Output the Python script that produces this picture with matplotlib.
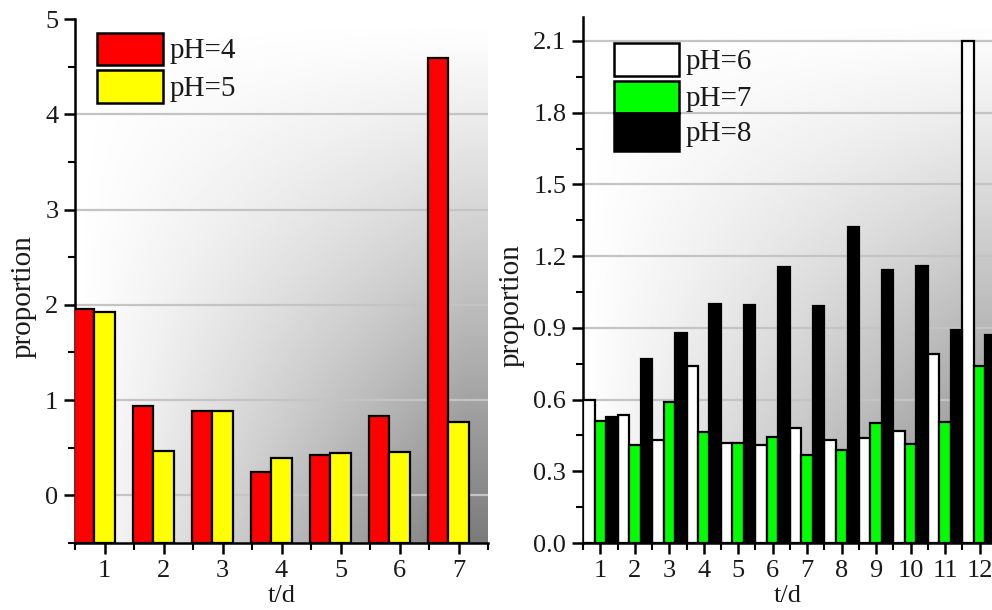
import numpy as np
import matplotlib
matplotlib.use("Agg")
import matplotlib.pyplot as plt
from matplotlib.patches import Rectangle
from matplotlib.ticker import MultipleLocator, FixedLocator, FormatStrFormatter

plt.rcParams['font.family'] = ['Liberation Serif', 'DejaVu Serif']

# ---- data ----
days_a = [1, 2, 3, 4, 5, 6, 7]
ph4 = [1.96, 0.94, 0.89, 0.24, 0.42, 0.83, 4.59]
ph5 = [1.92, 0.47, 0.89, 0.39, 0.44, 0.46, 0.77]

days_b = [1, 2, 3, 4, 5, 6, 7, 8, 9, 10, 11, 12]
ph6 = [0.60, 0.535, 0.43, 0.74, 0.42, 0.41, 0.48, 0.43, 0.44, 0.47, 0.79, 2.10]
ph7 = [0.51, 0.41, 0.59, 0.465, 0.42, 0.445, 0.37, 0.39, 0.50, 0.415, 0.505, 0.74]
ph8 = [0.525, 0.77, 0.88, 1.00, 0.995, 1.155, 0.99, 1.32, 1.14, 1.16, 0.89, 0.87]

labels_a = ['pH=4', 'pH=5']
labels_b = ['pH=6', 'pH=7', 'pH=8']
colors_a = ['#ff0000', '#ffff00']
colors_b = ['#ffffff', '#00ff00', '#000000']

W, H = 992, 610
fig = plt.figure(figsize=(W / 100, H / 100), dpi=100)
fig.patch.set_facecolor('white')


def px_axes(left, top, right, bottom):
    return fig.add_axes([left / W, 1 - bottom / H, (right - left) / W, (bottom - top) / H])


def shade(ax):
    # white in the upper left, darkening toward the lower right
    n = 300
    u = np.linspace(0, 1, n)[None, :]
    v = np.linspace(0, 1, n)[:, None]          # 0 at top, 1 at bottom
    d = np.clip(u * 1.05, 0, 1) ** 1.05 * v ** 1.15
    img = 1 - 0.52 * d
    ax.imshow(img, cmap='gray', vmin=0, vmax=1, extent=[0, 1, 0, 1],
              transform=ax.transAxes, aspect='auto', zorder=0,
              interpolation='bilinear', origin='upper')


def style(ax):
    for s in ('top', 'right'):
        ax.spines[s].set_visible(False)
    for s in ('left', 'bottom'):
        ax.spines[s].set_linewidth(1.8)
        ax.spines[s].set_color('black')
    ax.tick_params(which='major', direction='out', length=8, width=1.8,
                   labelsize=19, labelcolor='#1a1a1a', pad=4)
    ax.tick_params(which='minor', direction='out', length=5, width=1.5)
    ax.set_facecolor('none')


def legend(ax, items, x0, x1, tops, bots, tx):
    for (lab, col), t, b in zip(items, tops, bots):
        ax.add_patch(Rectangle((x0, 1 - b), x1 - x0, b - t, transform=ax.transAxes,
                               facecolor=col, edgecolor='black', lw=1.8,
                               clip_on=False, zorder=6))
        ax.text(tx, 1 - (t + b) / 2 - 0.004, lab, transform=ax.transAxes,
                fontsize=21, va='center', ha='left', color='#1a1a1a', zorder=6)


# ---- left panel ----
ax1 = px_axes(75, 19, 488, 543)
shade(ax1)
ya0 = -0.5                                      # bars rise from the bottom of the axis
xa = np.array(days_a, dtype=float)
wa = 0.34
ax1.bar(xa - wa, np.array(ph4) - ya0, bottom=ya0, width=wa, color=colors_a[0],
        edgecolor='black', lw=1.6, zorder=3)
ax1.bar(xa, np.array(ph5) - ya0, bottom=ya0, width=wa, color=colors_a[1],
        edgecolor='black', lw=1.6, zorder=3)
ax1.set_xlim(0.5, 7.5)
ax1.set_ylim(ya0, 5)
for g in [0, 1, 2, 3, 4]:
    ax1.axhline(g, color='#c4c4c4', lw=1.6, zorder=1)
ax1.xaxis.set_major_locator(FixedLocator(days_a))
ax1.xaxis.set_minor_locator(FixedLocator(np.arange(0.5, 8, 1)))
ax1.yaxis.set_major_locator(MultipleLocator(1))
ax1.yaxis.set_minor_locator(MultipleLocator(0.5))
style(ax1)
ax1.set_ylabel('proportion', fontsize=21, color='#1a1a1a')
ax1.yaxis.set_label_coords(-0.092, 0.47)
ax1.set_xlabel('t/d', fontsize=19, color='#1a1a1a')
ax1.xaxis.set_label_coords(0.50, -0.08)
legend(ax1, list(zip(labels_a, colors_a)), 0.053, 0.213,
       [(33 - 19) / 524, (70 - 19) / 524], [(65 - 19) / 524, (103 - 19) / 524], 0.228)

# ---- right panel ----
ax2 = px_axes(583, 17, 997, 543)
shade(ax2)
xb = np.array(days_b, dtype=float)
wb = 1 / 3
for k, (vals, col) in enumerate(zip([ph6, ph7, ph8], colors_b)):
    ax2.bar(xb + (k - 1) * wb, vals, width=wb, color=col, edgecolor='black', lw=1.6, zorder=3)
ax2.set_xlim(0.5, 12.5)
ax2.set_ylim(0, 2.2)
for g in [0.3, 0.6, 0.9, 1.2, 1.5, 1.8, 2.1]:
    ax2.axhline(g, color='#c4c4c4', lw=1.6, zorder=1)
ax2.xaxis.set_major_locator(FixedLocator(days_b))
ax2.xaxis.set_minor_locator(FixedLocator(np.arange(0.5, 13, 1)))
ax2.yaxis.set_major_locator(FixedLocator([0.0, 0.3, 0.6, 0.9, 1.2, 1.5, 1.8, 2.1]))
ax2.yaxis.set_minor_locator(FixedLocator(np.arange(0.15, 2.2, 0.3)))
ax2.yaxis.set_major_formatter(FormatStrFormatter('%.1f'))
style(ax2)
ax2.set_ylabel('proportion', fontsize=21, color='#1a1a1a')
ax2.yaxis.set_label_coords(-0.140, 0.452)
ax2.set_xlabel('t/d', fontsize=19, color='#1a1a1a')
ax2.xaxis.set_label_coords(0.495, -0.08)
legend(ax2, list(zip(labels_b, colors_b)), 0.075, 0.232,
       [(43 - 17) / 526, (81 - 17) / 526, (113 - 17) / 526],
       [(76 - 17) / 526, (113 - 17) / 526, (151 - 17) / 526], 0.247)

fig.savefig('out.png', dpi=100)
